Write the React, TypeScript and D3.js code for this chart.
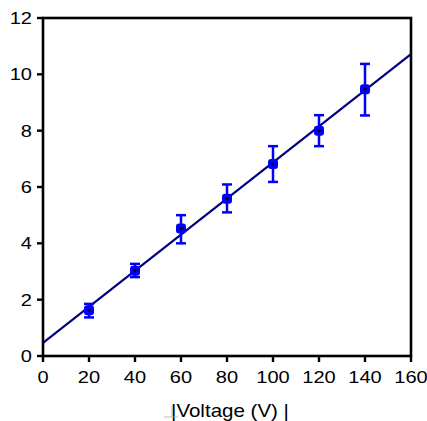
import React from "react";
import * as d3 from "d3";

const voltages = [20, 40, 60, 80, 100, 120, 140];
const values = [1.62, 3.03, 4.53, 5.58, 6.82, 8.0, 9.47];
const errLow = [1.37, 2.8, 4.0, 5.1, 6.18, 7.45, 8.54];
const errHigh = [1.85, 3.27, 5.0, 6.09, 7.45, 8.55, 10.37];
const fitX = [0, 160];
const fitY = [0.47, 10.72];
const xTicks = [0, 20, 40, 60, 80, 100, 120, 140, 160];
const yTicks = [0, 2, 4, 6, 8, 10, 12];
const xLabel = "|Voltage (V) |";

export default function App() {
  const W = 427, H = 421;
  const x = d3.scaleLinear().domain([0, 160]).range([43, 411]);
  const y = d3.scaleLinear().domain([0, 12]).range([356, 18]);
  const line = d3.line<number>().x((d) => x(fitX[d])).y((d) => y(fitY[d]));
  const font = "'Liberation Sans', Arial, sans-serif";
  const sx = 1.18;
  return (
    <svg width={W} height={H} style={{ position: "absolute", left: 0, top: 0 }}>
      <rect width={W} height={H} fill="white" />
      <path d={line([0, 1]) || ""} stroke="#000080" strokeWidth={2.2} fill="none" />
      {voltages.map((v, i) => (
        <g key={i}>
          <line x1={x(v)} x2={x(v)} y1={y(errLow[i])} y2={y(errHigh[i])} stroke="#0000ff" strokeWidth={2.5} />
          <line x1={x(v) - 5} x2={x(v) + 5} y1={y(errLow[i])} y2={y(errLow[i])} stroke="#0000ff" strokeWidth={2.5} />
          <line x1={x(v) - 5} x2={x(v) + 5} y1={y(errHigh[i])} y2={y(errHigh[i])} stroke="#0000ff" strokeWidth={2.5} />
          <rect x={x(v) - 5} y={y(values[i]) - 5} width={10} height={10} rx={3} fill="#0000ff" />
          <path
            d={`M${x(v) - 2.5},${y(values[i]) - 1} L${x(v) + 2.5},${y(values[i]) - 1} L${x(v)},${y(values[i]) + 2} Z`}
            fill="black"
          />
        </g>
      ))}
      <rect x={43} y={18} width={368} height={338} fill="none" stroke="black" strokeWidth={2.6} />
      {xTicks.map((t) => (
        <g key={"x" + t}>
          <line x1={x(t)} x2={x(t)} y1={356} y2={362} stroke="black" strokeWidth={2.4} />
          <text
            transform={`translate(${x(t)},383) scale(${sx},1)`}
            textAnchor="middle"
            fontFamily={font}
            fontSize={17}
            fill="black"
          >
            {t}
          </text>
        </g>
      ))}
      {yTicks.map((t) => (
        <g key={"y" + t}>
          <line x1={37} x2={43} y1={y(t)} y2={y(t)} stroke="black" strokeWidth={2.4} />
          <text
            transform={`translate(32,${y(t) + 6}) scale(${sx},1)`}
            textAnchor="end"
            fontFamily={font}
            fontSize={17}
            fill="black"
          >
            {t}
          </text>
        </g>
      ))}
      <text
        transform={`translate(230,417) scale(1.14,1)`}
        textAnchor="middle"
        fontFamily={font}
        fontSize={18}
        fill="black"
      >
        {xLabel}
      </text>
      <path d="M172,405 L172,417 M164,417 L178,417" stroke="#aaa" strokeWidth={0.8} fill="none" />
    </svg>
  );
}
